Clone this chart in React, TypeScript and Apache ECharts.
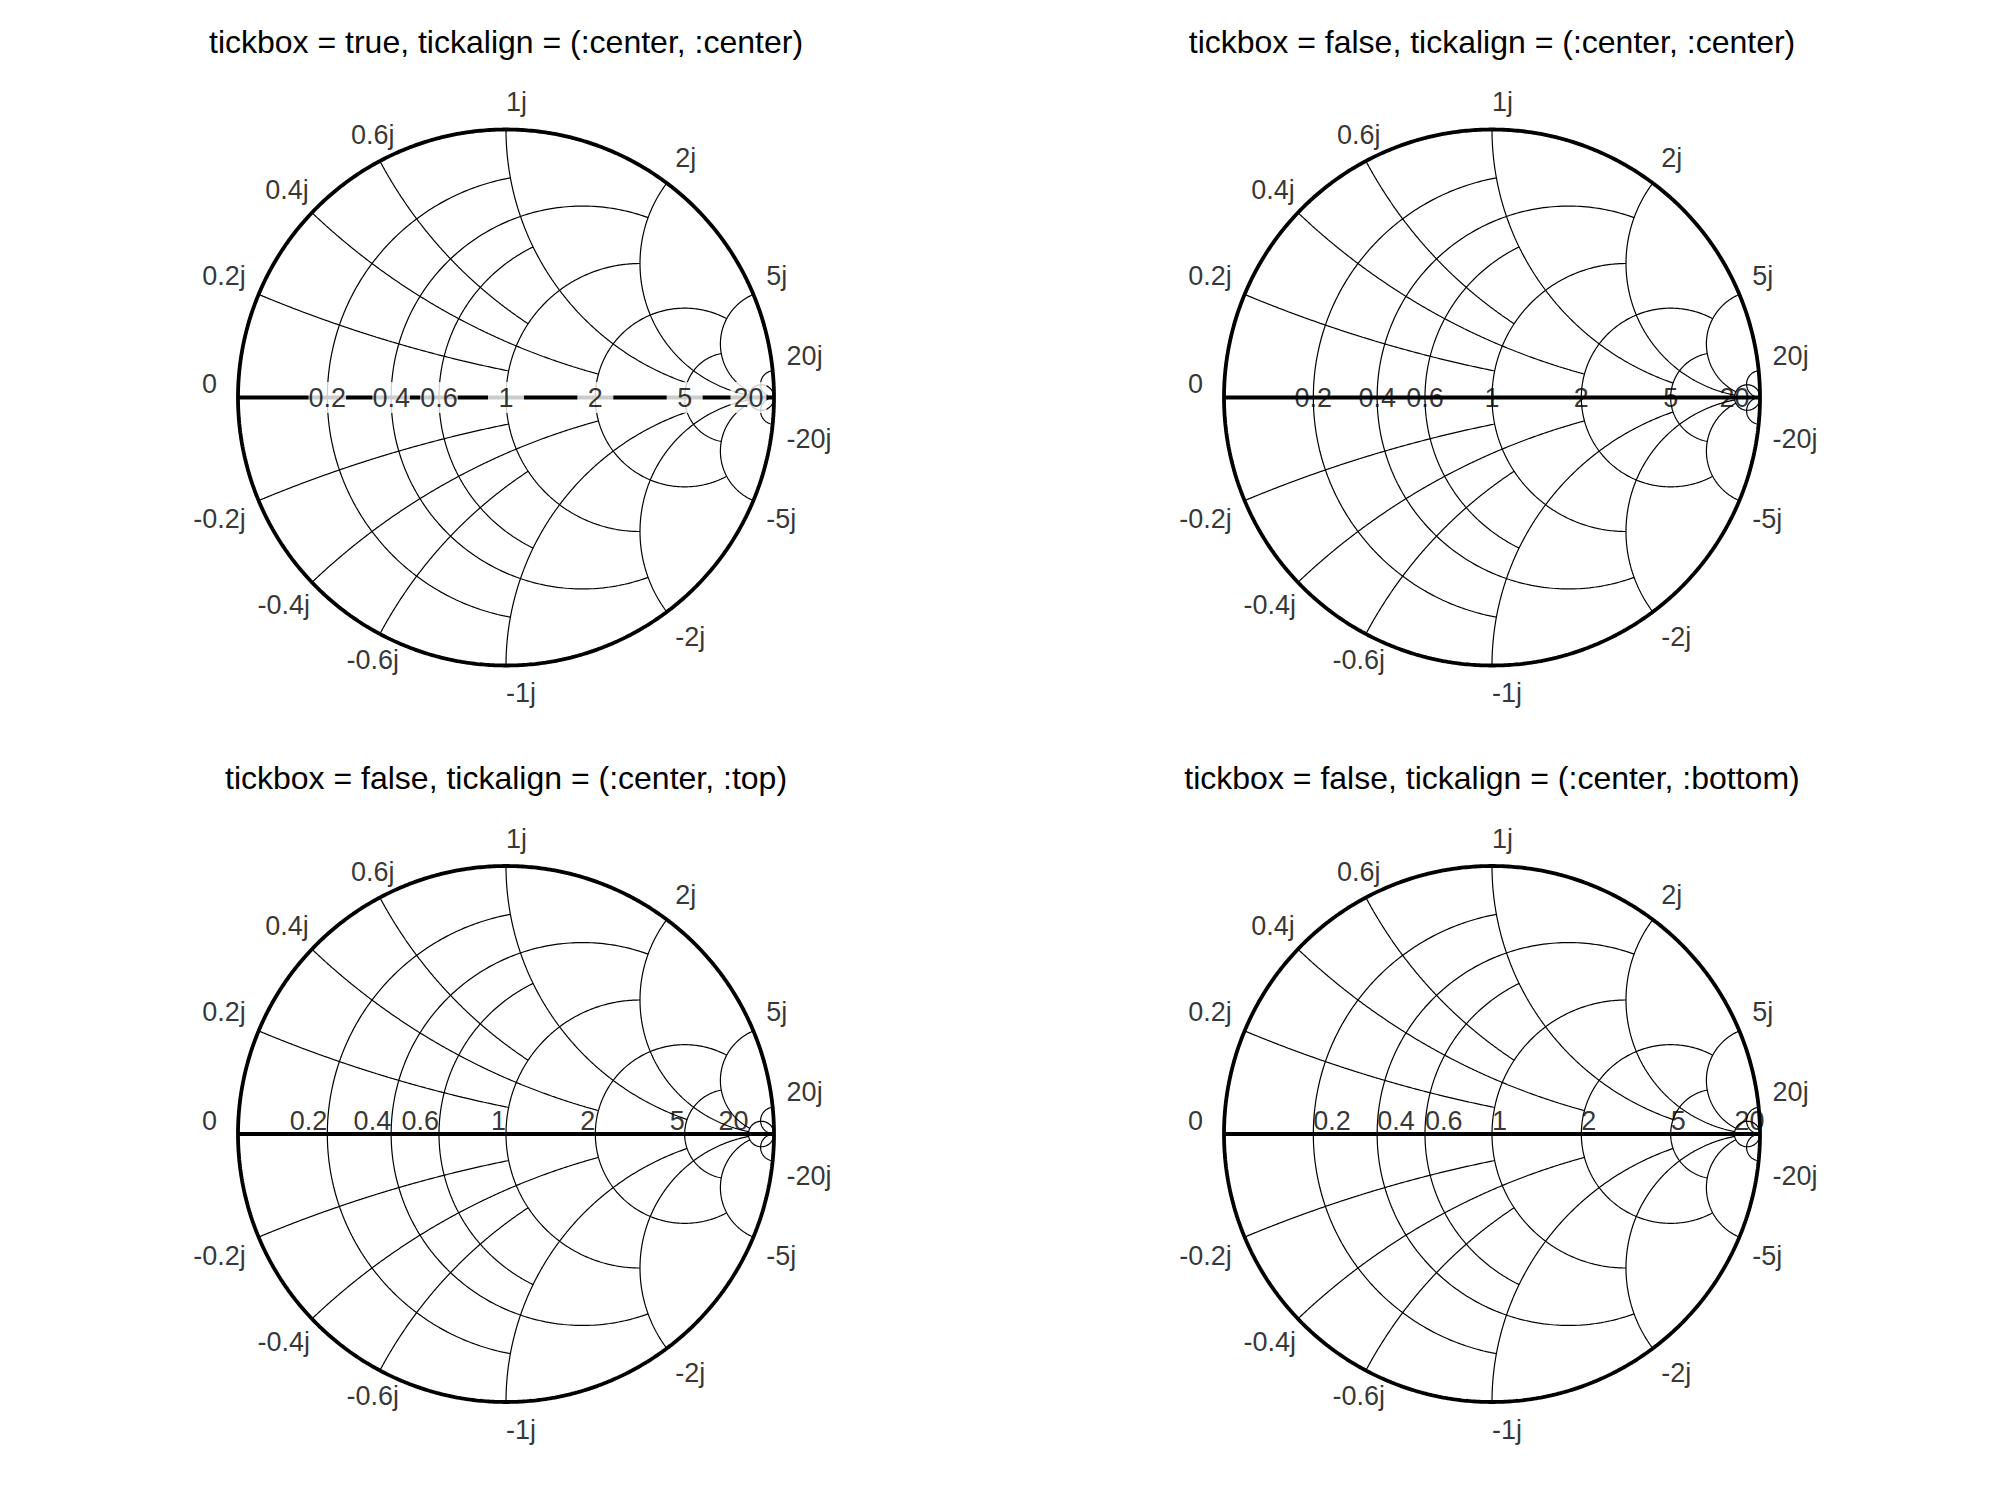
import React, { useEffect, useRef } from 'react';
import * as echarts from 'echarts';

// ---------- data ----------
const chartTitles = [
  'tickbox = true, tickalign = (:center, :center)',
  'tickbox = false, tickalign = (:center, :center)',
  'tickbox = false, tickalign = (:center, :top)',
  'tickbox = false, tickalign = (:center, :bottom)',
];
const tickBoxFlags = [true, false, false, false];
const tickAlignModes = ['center', 'center', 'top', 'bottom'];

// resistance circles and the reactance value where each one stops
const resistanceValues = [0.2, 0.4, 0.6, 1, 2, 5, 20];
const resistanceCutoffs = [1, 2, 1, 2, 5, 5, Infinity];
const resistanceTickLabels = ['0.2', '0.4', '0.6', '1', '2', '5', '20'];

// reactance arcs and the resistance value where each one stops
const reactanceValues = [0.2, 0.4, 0.6, 1, 2, 5, 20];
const reactanceCutoffs = [1, 2, 1, 5, 20, 20, Infinity];
const reactanceTickLabels = ['0.2j', '0.4j', '0.6j', '1j', '2j', '5j', '20j'];
const negReactanceTickLabels = ['-0.2j', '-0.4j', '-0.6j', '-1j', '-2j', '-5j', '-20j'];
const zeroTickLabel = '0';

// ---------- layout / style ----------
const W = 2000;
const H = 1500;
const R = 268;
const centers = [
  [506, 397.5],
  [1492, 397.5],
  [506, 1134],
  [1492, 1134],
];
const titleYs = [42, 42, 778, 778];
const FONT = '"Liberation Sans", Arial, Helvetica, sans-serif';
const TICK_SIZE = 27;
const TITLE_SIZE = 32;
const LINE_H = 27;
const GRID_W = 1.2;
const BOLD_W = 3.8;
const LABEL_GAP = 14;
const ZERO_EXTRA_GAP = 7;
const BOX_MIN_W = 36;

function gamma(r: number, x: number): [number, number] {
  const den = (r + 1) * (r + 1) + x * x;
  return [((r - 1) * (r + 1) + x * x) / den, (2 * x) / den];
}

function circlePoints(cx: number, cy: number, rho: number, a0: number, a1: number, n = 240) {
  const pts: number[][] = [];
  for (let i = 0; i <= n; i++) {
    const a = a0 + ((a1 - a0) * i) / n;
    pts.push([cx + rho * Math.cos(a), cy + rho * Math.sin(a)]);
  }
  return pts;
}

function resistanceArc(r: number, xc: number) {
  const c = r / (1 + r);
  const rho = 1 / (1 + r);
  let a0 = 0;
  let a1 = 2 * Math.PI;
  if (isFinite(xc)) {
    const [gx, gy] = gamma(r, xc);
    a0 = Math.atan2(gy, gx - c);
    a1 = 2 * Math.PI - a0;
  }
  return circlePoints(c, 0, rho, a0, a1);
}

function reactanceArc(x: number, rc: number) {
  const cy = 1 / x;
  const rho = 1 / Math.abs(x);
  const p0 = gamma(0, x);
  const p1 = isFinite(rc) ? gamma(rc, x) : [1, 0];
  const b0 = Math.atan2(p0[1] - cy, p0[0] - 1);
  const b1 = Math.atan2(p1[1] - cy, p1[0] - 1);
  let d = b1 - b0;
  while (d > Math.PI) d -= 2 * Math.PI;
  while (d <= -Math.PI) d += 2 * Math.PI;
  return circlePoints(1, cy, rho, b0, b0 + d);
}

export default function App() {
  const ref = useRef<HTMLDivElement>(null);

  useEffect(() => {
    if (!ref.current) return;
    const chart = echarts.init(ref.current, undefined, { renderer: 'svg' });

    const ctx = document.createElement('canvas').getContext('2d')!;
    const textWidth = (t: string, size: number) => {
      ctx.font = `${size}px ${FONT}`;
      return ctx.measureText(t).width;
    };

    const lineSeries = (k: number, pts: number[][], width: number) => ({
      type: 'line',
      xAxisIndex: k,
      yAxisIndex: k,
      data: pts,
      symbol: 'none',
      showSymbol: false,
      clip: false,
      silent: true,
      z: 2,
      lineStyle: { color: '#000', width },
    });

    const series: any[] = [];
    centers.forEach((_, k) => {
      resistanceValues.forEach((r, i) => {
        series.push(lineSeries(k, resistanceArc(r, resistanceCutoffs[i]), GRID_W));
      });
      reactanceValues.forEach((x, i) => {
        series.push(lineSeries(k, reactanceArc(x, reactanceCutoffs[i]), GRID_W));
        series.push(lineSeries(k, reactanceArc(-x, reactanceCutoffs[i]), GRID_W));
      });
      series.push(lineSeries(k, circlePoints(0, 0, 1, 0, 2 * Math.PI, 720), BOLD_W));
      series.push(lineSeries(k, [[-1, 0], [1, 0]], BOLD_W));

      // reactance tick labels around the rim
      const rim: { x: number; text: string }[] = [{ x: 0, text: zeroTickLabel }];
      reactanceValues.forEach((v, i) => {
        rim.push({ x: v, text: reactanceTickLabels[i] });
        rim.push({ x: -v, text: negReactanceTickLabels[i] });
      });
      const rimData = rim.map(({ x, text }) => {
        const [gx, gy] = gamma(0, x);
        const th = Math.atan2(gy, gx);
        const cs = Math.cos(th);
        const sn = Math.sin(th);
        const w = textWidth(text, TICK_SIZE);
        const gap = LABEL_GAP + (x === 0 ? ZERO_EXTRA_GAP : 0);
        const ax = cs >= -0.01 ? 0 : Math.min(1, Math.max(0, 1.3 * -cs - 0.1));
        const dx = gap * cs + (0.5 - ax) * w;
        const dy = -gap * sn + (sn >= -1e-9 ? -LINE_H / 2 : LINE_H / 2);
        return {
          value: [gx, gy],
          label: {
            show: true,
            formatter: text,
            position: 'inside',
            offset: [dx, dy],
            align: 'center',
            verticalAlign: 'middle',
            fontSize: TICK_SIZE,
            fontFamily: FONT,
            lineHeight: LINE_H,
            color: '#000',
            textBorderWidth: 0,
          },
        };
      });
      series.push({
        type: 'scatter',
        xAxisIndex: k,
        yAxisIndex: k,
        symbolSize: 1,
        itemStyle: { color: 'rgba(0,0,0,0)' },
        clip: false,
        silent: true,
        z: 10,
        data: rimData,
      });

      // resistance tick labels along the real axis
      const mode = tickAlignModes[k];
      const boxed = tickBoxFlags[k];
      const axisData = resistanceValues.map((r, i) => {
        const text = resistanceTickLabels[i];
        const w = textWidth(text, TICK_SIZE);
        let off = [0, 0];
        if (mode === 'top') off = [-w / 2, -LINE_H / 2];
        if (mode === 'bottom') off = [w / 2, -LINE_H / 2];
        const label: any = {
          show: true,
          formatter: text,
          position: 'inside',
          offset: off,
          align: 'center',
          verticalAlign: 'middle',
          fontSize: TICK_SIZE,
          fontFamily: FONT,
          lineHeight: LINE_H,
          color: '#000',
          textBorderWidth: 0,
        };
        if (boxed) {
          label.backgroundColor = '#fff';
          label.padding = [2, Math.max(0, (BOX_MIN_W - w) / 2)];
        }
        return { value: [(r - 1) / (r + 1), 0], label };
      });
      series.push({
        type: 'scatter',
        xAxisIndex: k,
        yAxisIndex: k,
        symbolSize: 1,
        itemStyle: { color: 'rgba(0,0,0,0)' },
        clip: false,
        silent: true,
        z: 12,
        data: axisData,
      });
    });

    chart.setOption({
      animation: false,
      backgroundColor: '#fff',
      grid: centers.map(([cx, cy]) => ({
        left: cx - R,
        top: cy - R,
        width: 2 * R,
        height: 2 * R,
        containLabel: false,
      })),
      xAxis: centers.map((_, k) => ({ type: 'value', gridIndex: k, min: -1, max: 1, show: false })),
      yAxis: centers.map((_, k) => ({ type: 'value', gridIndex: k, min: -1, max: 1, show: false })),
      graphic: chartTitles.map((t, k) => ({
        type: 'text',
        x: centers[k][0],
        y: titleYs[k],
        silent: true,
        style: {
          text: t,
          font: `${TITLE_SIZE}px ${FONT}`,
          fill: '#000',
          textAlign: 'center',
          textVerticalAlign: 'middle',
        },
      })),
      series,
    });

    return () => chart.dispose();
  }, []);

  return (
    <div
      ref={ref}
      style={{ position: 'fixed', left: 0, top: 0, width: W, height: H, background: '#fff' }}
    />
  );
}
